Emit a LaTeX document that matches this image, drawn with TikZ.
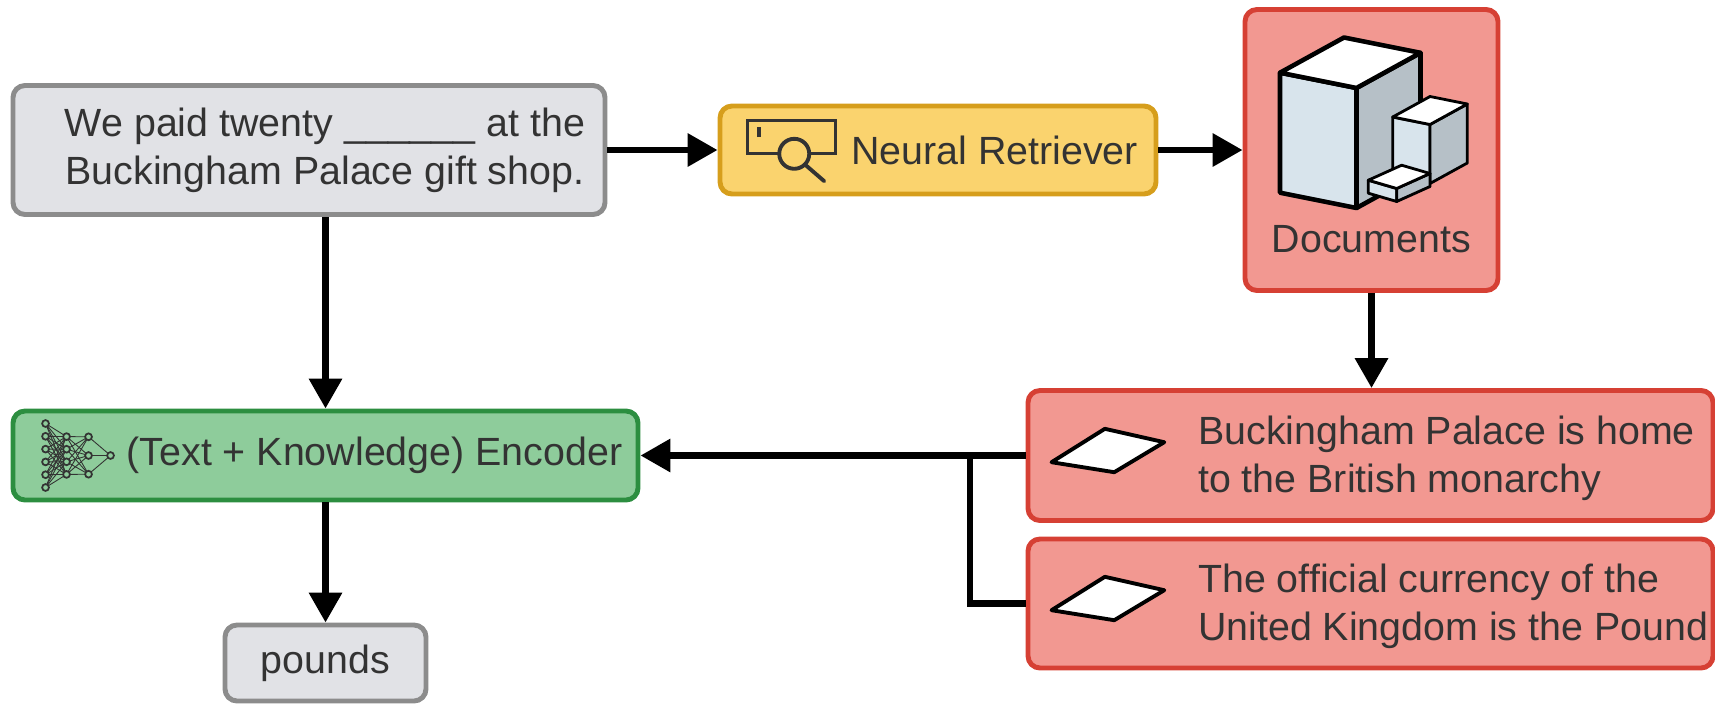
\documentclass[tikz,border=0pt]{standalone}
\usepackage{fontspec}
\setmainfont{Liberation Sans}
\definecolor{Ink}{RGB}{51, 51, 51}
\definecolor{GreyFill}{RGB}{225, 226, 230}
\definecolor{GreyLine}{RGB}{140, 140, 140}
\definecolor{GoldFill}{RGB}{250, 211, 110}
\definecolor{GoldLine}{RGB}{214, 158, 28}
\definecolor{SalmonFill}{RGB}{242, 152, 145}
\definecolor{SalmonLine}{RGB}{214, 64, 52}
\definecolor{MintFill}{RGB}{142, 204, 155}
\definecolor{MintLine}{RGB}{44, 142, 64}
\definecolor{CubeLight}{RGB}{216, 228, 236}
\definecolor{CubeShade}{RGB}{182, 192, 199}
\usetikzlibrary{arrows.meta, positioning, calc}

\begin{document}
\begin{tikzpicture}[
        >={Triangle[length=0.3cm, width=0.32cm]},
        block/.style={rectangle, rounded corners=0.12cm, line width=1.4pt, inner sep=0pt, text=Ink, font=\fontsize{11.2}{13.6}\selectfont},
        grey_box/.style={block, draw=GreyLine, fill=GreyFill},
        gold_box/.style={block, draw=GoldLine, fill=GoldFill},
        salmon_box/.style={block, draw=SalmonLine, fill=SalmonFill},
        mint_box/.style={block, draw=MintLine, fill=MintFill},
        box_text/.style={inner sep=0pt, text=Ink, font=\fontsize{11.2}{13.6}\selectfont},
        flow/.style={line width=0.066cm},
        icon/.style={draw=Ink, line width=1.1pt},
        face/.style={draw=black, line join=round}
    ]
    \useasboundingbox (0,0) rectangle (17.15,7.12);

    \node[grey_box, minimum width=5.92cm, minimum height=1.29cm] (query) at (3.09,5.62) {};
    \node[box_text, align=center] (query_text) at ([xshift=0.16cm]query.center) {We paid twenty \_\_\_\_\_\_ at the\\Buckingham Palace gift shop.};
    \node[gold_box, minimum width=4.36cm, minimum height=0.88cm] (retriever) at (9.38,5.62) {\hspace*{1.13cm}Neural Retriever};
    \node[salmon_box, minimum width=2.53cm, minimum height=2.81cm] (docs) at (13.715,5.62) {};
    \node[box_text, above=0.39cm of docs.south] (docs_label) {Documents};
    \node[mint_box, minimum width=6.25cm, minimum height=0.89cm] (encoder) at (3.255,2.565) {\hspace*{0.98cm}(Text + Knowledge) Encoder};
    \node[grey_box, minimum width=2.01cm, minimum height=0.76cm] (answer) at (3.255,0.49) {pounds};
    \node[salmon_box, minimum width=6.85cm, minimum height=1.30cm] (fact1) at (13.705,2.565) {};
    \node[box_text, align=left, anchor=west] (fact1_text) at ([xshift=1.72cm, yshift=-0.03cm]fact1.west) {Buckingham Palace is home\\to the British monarchy};
    \node[salmon_box, minimum width=6.85cm, minimum height=1.29cm] (fact2) at (13.705,1.085) {};
    \node[box_text, align=left, anchor=west] (fact2_text) at ([xshift=1.72cm, yshift=-0.03cm]fact2.west) {The official currency of the\\United Kingdom is the Pound};

    % search icon
    \begin{scope}[shift={(retriever.west)}]
        \draw[icon] (0.30,-0.035) rectangle (1.18,0.295);
        \draw[icon] (0.417,0.128) -- (0.417,0.228);
        \filldraw[icon, fill=GoldFill] (0.767,-0.038) circle (0.15);
        \draw[icon, line cap=round] (0.873,-0.144) -- (1.067,-0.312);
    \end{scope}

    % stack of blocks
    \begin{scope}[shift={(docs.center)}]
        \filldraw[face, fill=CubeLight, line width=1.3pt] (-0.15,0.62) -- (-0.915,0.773) -- (-0.915,-0.427) -- (-0.15,-0.58) -- cycle;
        \filldraw[face, fill=CubeShade, line width=1.3pt] (-0.15,0.62) -- (0.49,0.972) -- (0.49,-0.228) -- (-0.15,-0.58) -- cycle;
        \filldraw[face, fill=white, line width=1.3pt] (-0.15,0.62) -- (-0.915,0.773) -- (-0.275,1.125) -- (0.49,0.972) -- cycle;
        \filldraw[face, fill=CubeLight, line width=0.8pt] (0.585,0.255) -- (0.212,0.33) -- (0.212,-0.26) -- (0.585,-0.335) -- cycle;
        \filldraw[face, fill=CubeShade, line width=0.8pt] (0.585,0.255) -- (0.958,0.46) -- (0.958,-0.13) -- (0.585,-0.335) -- cycle;
        \filldraw[face, fill=white, line width=0.8pt] (0.585,0.255) -- (0.212,0.33) -- (0.585,0.535) -- (0.958,0.46) -- cycle;
        \filldraw[face, fill=CubeLight, line width=0.8pt] (0.252,-0.385) -- (-0.032,-0.302) -- (-0.032,-0.432) -- (0.252,-0.515) -- cycle;
        \filldraw[face, fill=CubeShade, line width=0.8pt] (0.252,-0.385) -- (0.585,-0.235) -- (0.585,-0.365) -- (0.252,-0.515) -- cycle;
        \filldraw[face, fill=white, line width=0.8pt] (0.252,-0.385) -- (-0.032,-0.302) -- (0.301,-0.152) -- (0.585,-0.235) -- cycle;
    \end{scope}

    % little network
    \begin{scope}[shift={(encoder.west)}]
        \foreach \i in {1,...,6} \coordinate (a\i) at (0.35, {0.32-0.128*(\i-1)});
        \foreach \i in {1,...,4} \coordinate (b\i) at (0.56, {0.189-0.126*(\i-1)});
        \foreach \i in {1,...,3} \coordinate (c\i) at (0.78, {0.187-0.187*(\i-1)});
        \coordinate (d1) at (1.00,0);
        \foreach \i in {1,...,6} \foreach \j in {1,...,4} \draw[Ink, line width=0.25pt] (a\i) -- (b\j);
        \foreach \i in {1,...,4} \foreach \j in {1,...,3} \draw[Ink, line width=0.25pt] (b\i) -- (c\j);
        \foreach \i in {1,...,3} \draw[Ink, line width=0.25pt] (c\i) -- (d1);
        \foreach \n in {a1,a2,a3,a4,a5,a6,b1,b2,b3,b4,c1,c2,c3,d1}
            \filldraw[fill=MintFill, draw=Ink, line width=0.5pt] (\n) circle (0.034);
    \end{scope}

    % note icons
    \foreach \f in {fact1, fact2}
        \filldraw[fill=white, draw=black, line width=1.1pt, line join=round, shift={(\f.west)}] (0.26,-0.067) -- (0.793,0.267) -- (1.387,0.133) -- (0.887,-0.167) -- cycle;

    % Edges
    \draw[flow, ->] (query.east) -- (retriever.west);
    \draw[flow, ->] (retriever.east) -- (docs.west);
    \draw[flow, ->] (query.south -| encoder.north) -- (encoder.north);
    \draw[flow, ->] (docs.south) -- (docs.south |- fact1.north);
    \draw[flow, ->] (fact1.west) -- (encoder.east);
    \draw[flow, ->] (encoder.south) -- (answer.north);
    \coordinate (join) at (9.70,2.565);
    \draw[flow] (fact2.west) -| (join);
\end{tikzpicture}
\end{document}
